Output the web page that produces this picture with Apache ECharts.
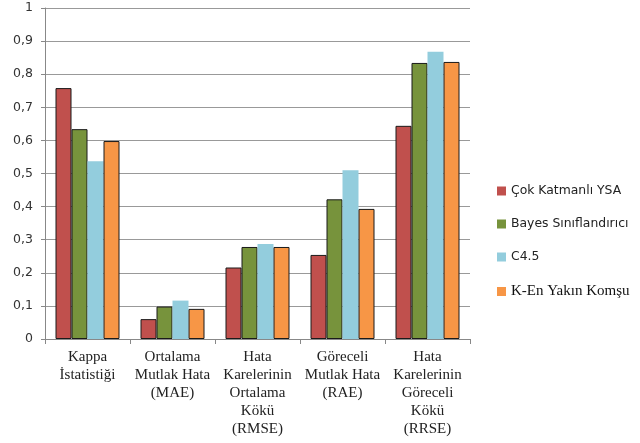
<!DOCTYPE html>
<html>
<head>
<meta charset="utf-8">
<script src="https://cdn.jsdelivr.net/npm/echarts@6/dist/echarts.min.js"></script>
<style>
  html, body { margin: 0; padding: 0; background: #fff; }
  #chart { width: 640px; height: 443px; }
</style>
</head>
<body>
<div id="chart"></div>
<script>
// kategoriler ve seriler
var categories = [
  'Kappa\nİstatistiği',
  'Ortalama\nMutlak Hata\n(MAE)',
  'Hata\nKarelerinin\nOrtalama\nKökü\n(RMSE)',
  'Göreceli\nMutlak Hata\n(RAE)',
  'Hata\nKarelerinin\nGöreceli\nKökü\n(RRSE)'
];
var seriesNames = ['Çok Katmanlı YSA', 'Bayes Sınıflandırıcı', 'C4.5', 'K-En Yakın Komşu'];
var ysa   = [0.758, 0.060, 0.216, 0.254, 0.644];
var bayes = [0.634, 0.098, 0.278, 0.422, 0.834];
var c45   = [0.537, 0.116, 0.287, 0.510, 0.868];
var knn   = [0.598, 0.091, 0.278, 0.393, 0.837];
var colors = ['#C0504D', '#77933C', '#93CDDD', '#F79646'];

var myChart = echarts.init(document.getElementById('chart'));

function bar(name, data, color, border) {
  return {
    name: name,
    type: 'bar',
    data: data,
    barWidth: 16,
    barGap: '0%',
    itemStyle: {
      color: color,
      borderColor: border ? '#1a1a1a' : color,
      borderWidth: border ? 1 : 0
    }
  };
}

myChart.setOption({
  animation: false,
  color: colors,
  grid: { left: 45, right: 170, top: 8, bottom: 104, containLabel: false },
  legend: {
    orient: 'vertical',
    left: 492,
    top: 180,
    itemWidth: 9,
    itemHeight: 9,
    itemGap: 21,
    icon: 'rect',
    itemStyle: { borderWidth: 0 },
    data: seriesNames,
    formatter: function (name) {
      // son öğe Times benzeri yazıyla
      return name === 'K-En Yakın Komşu' ? '{s|' + name + '}' : '{a|' + name + '}';
    },
    textStyle: {
      color: '#222',
      rich: {
        a: { fontFamily: 'DejaVu Sans', fontSize: 12.4, lineHeight: 15, color: '#222' },
        s: { fontFamily: 'Liberation Serif', fontSize: 15, lineHeight: 15, color: '#111' }
      }
    }
  },
  xAxis: {
    type: 'category',
    data: categories,
    axisLine: { lineStyle: { color: '#888' } },
    axisTick: { show: true, length: 5, lineStyle: { color: '#888' } },
    axisLabel: {
      interval: 0,
      margin: 9,
      fontFamily: 'Liberation Serif',
      fontSize: 15,
      lineHeight: 18,
      color: '#222'
    }
  },
  yAxis: {
    type: 'value',
    min: 0,
    max: 1,
    interval: 0.1,
    axisLine: { show: true, lineStyle: { color: '#888' } },
    axisTick: { show: true, length: 4, lineStyle: { color: '#888' } },
    splitLine: { lineStyle: { color: '#999' } },
    axisLabel: {
      margin: 12,
      fontFamily: 'DejaVu Sans',
      fontSize: 12.5,
      color: '#333',
      formatter: function (v) { return String(+v.toFixed(1)).replace('.', ','); }
    }
  },
  series: [
    bar(seriesNames[0], ysa, colors[0], true),
    bar(seriesNames[1], bayes, colors[1], true),
    bar(seriesNames[2], c45, colors[2], false),
    bar(seriesNames[3], knn, colors[3], true)
  ]
});
</script>
</body>
</html>
